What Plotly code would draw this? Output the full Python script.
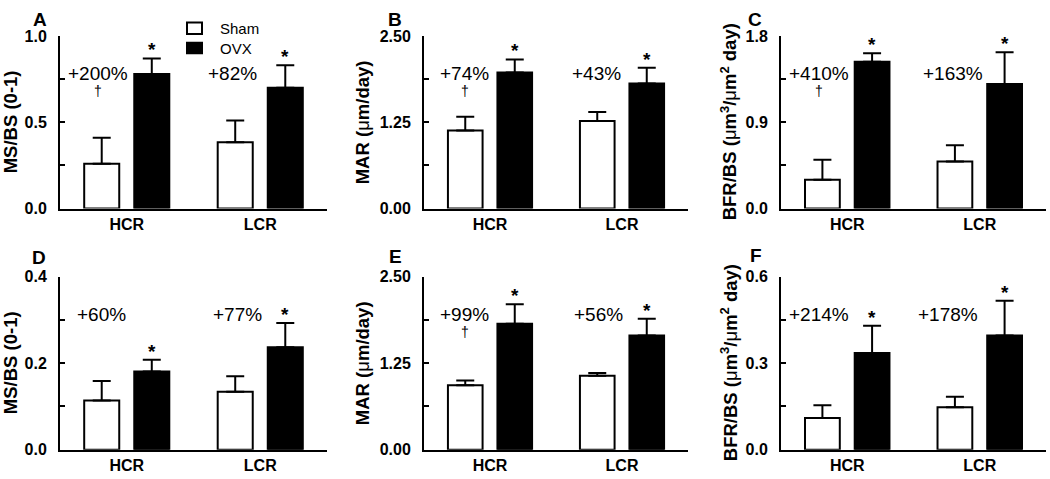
import plotly.graph_objects as go

# ---------------- data ----------------
categories = ["HCR", "LCR"]
series_names = ["Sham", "OVX"]

A_sham = [0.26, 0.385]
A_sham_err = [0.15, 0.125]
A_ovx = [0.78, 0.70]
A_ovx_err = [0.09, 0.13]

B_sham = [1.13, 1.27]
B_sham_err = [0.20, 0.13]
B_ovx = [1.97, 1.81]
B_ovx_err = [0.19, 0.23]

C_sham = [0.30, 0.49]
C_sham_err = [0.21, 0.17]
C_ovx = [1.53, 1.30]
C_ovx_err = [0.09, 0.33]

D_sham = [0.114, 0.134]
D_sham_err = [0.045, 0.036]
D_ovx = [0.181, 0.237]
D_ovx_err = [0.027, 0.056]

E_sham = [0.93, 1.07]
E_sham_err = [0.07, 0.04]
E_ovx = [1.82, 1.65]
E_ovx_err = [0.28, 0.24]

F_sham = [0.11, 0.147]
F_sham_err = [0.044, 0.037]
F_ovx = [0.335, 0.396]
F_ovx_err = [0.095, 0.12]

A_pct = ["+200%", "+82%"]
B_pct = ["+74%", "+43%"]
C_pct = ["+410%", "+163%"]
D_pct = ["+60%", "+77%"]
E_pct = ["+99%", "+56%"]
F_pct = ["+214%", "+178%"]

A_dagger = [True, False]
B_dagger = [True, False]
C_dagger = [True, False]
D_dagger = [False, False]
E_dagger = [True, False]
F_dagger = [False, False]

y_titles = [
    "<b>MS/BS (0-1)</b>",
    "<b>MAR (</b>μ<b>m/day)</b>",
    "<b>BFR/BS (</b>μ<b>m<sup>3</sup>/</b>μ<b>m<sup>2</sup> day)</b>",
    "<b>MS/BS (0-1)</b>",
    "<b>MAR (</b>μ<b>m/day)</b>",
    "<b>BFR/BS (</b>μ<b>m<sup>3</sup>/</b>μ<b>m<sup>2</sup> day)</b>",
]
panel_letters = ["A", "B", "C", "D", "E", "F"]
y_ranges = [[0, 1.0], [0, 2.5], [0, 1.8], [0, 0.4], [0, 2.5], [0, 0.6]]
y_dticks = [0.5, 1.25, 0.9, 0.2, 1.25, 0.3]
y_formats = [".1f", ".2f", ".1f", ".1f", ".2f", ".1f"]

panels = [
    (A_sham, A_sham_err, A_ovx, A_ovx_err, A_pct, A_dagger),
    (B_sham, B_sham_err, B_ovx, B_ovx_err, B_pct, B_dagger),
    (C_sham, C_sham_err, C_ovx, C_ovx_err, C_pct, C_dagger),
    (D_sham, D_sham_err, D_ovx, D_ovx_err, D_pct, D_dagger),
    (E_sham, E_sham_err, E_ovx, E_ovx_err, E_pct, E_dagger),
    (F_sham, F_sham_err, F_ovx, F_ovx_err, F_pct, F_dagger),
]

# ---------------- layout / style ----------------
W, H = 1050, 479
col_px = [(60, 327), (424, 688), (781, 1046)]
row_px = [(29, 208), (278.5, 458)]
title_x_px = [10, 362, 729]
letter_px = [(40, 12), (395, 12), (755, 12), (39, 259), (395, 258), (756, 257)]
pct_xoff = [[-0.217, -0.206], [-0.193, -0.19], [-0.21, -0.2],
            [-0.187, -0.17], [-0.19, -0.18], [-0.21, -0.24]]
pct_yfrac = 0.78
dagger_yfrac = 0.68
bar_off = 0.1875
# manual legend boxes (pixels): (x0, y0, x1, y1)
legend_boxes = [(187, 15, 202, 27), (187, 36, 202, 47)]
legend_fill = ["white", "black"]
legend_text_x = 218

FONT = "Arial, Liberation Sans, sans-serif"


def px_x(p):
    return p / W


def px_y(p):
    return 1 - p / H


fig = go.Figure()
layout = dict(
    width=W, height=H,
    margin=dict(l=0, r=0, t=0, b=0),
    paper_bgcolor="white", plot_bgcolor="white",
    barmode="group", bargap=0.25, bargroupgap=0.3,
    font=dict(family=FONT, color="black"),
    showlegend=False,
)
annotations = []
shapes = []

for i, (sham, sham_err, ovx, ovx_err, pct, dag) in enumerate(panels):
    r, c = divmod(i, 3)
    n = "" if i == 0 else str(i + 1)
    xa, ya = "x" + n, "y" + n
    x0, x1 = col_px[c]
    y0, y1 = row_px[r]
    fig.add_trace(go.Bar(
        x=categories, y=sham, name=series_names[0], xaxis=xa, yaxis=ya,
        marker=dict(color="white", line=dict(color="black", width=2)),
        error_y=dict(type="data", array=sham_err, arrayminus=[0] * len(sham),
                     symmetric=False, color="black", thickness=2, width=9),
        offsetgroup="sham",
    ))
    fig.add_trace(go.Bar(
        x=categories, y=ovx, name=series_names[1], xaxis=xa, yaxis=ya,
        marker=dict(color="black", line=dict(color="black", width=2)),
        error_y=dict(type="data", array=ovx_err, arrayminus=[0] * len(ovx),
                     symmetric=False, color="black", thickness=2, width=9),
        offsetgroup="ovx",
    ))
    layout["xaxis" + n] = dict(
        domain=[px_x(x0), px_x(x1)], anchor=ya, range=[-0.5, 1.5],
        showline=True, linewidth=2, linecolor="black", ticks="",
        tickfont=dict(family=FONT, size=16, weight="bold"),
        showgrid=False, zeroline=False, fixedrange=True,
    )
    layout["yaxis" + n] = dict(
        domain=[px_y(y1), px_y(y0)], anchor=xa, range=y_ranges[i],
        dtick=y_dticks[i], tick0=0, tickformat=y_formats[i],
        showline=True, linewidth=2, linecolor="black",
        ticks="inside", ticklen=5, tickwidth=1.5, tickcolor="black",
        minor=dict(dtick=y_dticks[i] / 2, ticks="inside", ticklen=5,
                   tickwidth=1.5, tickcolor="black", showgrid=False),
        tickfont=dict(family=FONT, size=16, weight="bold"),
        ticklabelstandoff=8,
        showgrid=False, zeroline=False, fixedrange=True,
    )
    # y-axis title
    annotations.append(dict(
        text=y_titles[i], xref="paper", yref="paper",
        x=px_x(title_x_px[c]), y=px_y((y0 + y1) / 2), textangle=-90,
        showarrow=False, xanchor="center", yanchor="middle",
        font=dict(family=FONT, size=18.5, color="black"),
    ))
    # panel letter
    lx, ly = letter_px[i]
    annotations.append(dict(
        text="<b>%s</b>" % panel_letters[i], xref="paper", yref="paper",
        x=px_x(lx), y=px_y(ly), showarrow=False,
        xanchor="center", yanchor="middle",
        font=dict(family=FONT, size=19, color="black"),
    ))
    for g in range(2):
        # percent change
        annotations.append(dict(
            text=pct[g], xref=xa, yref=ya + " domain",
            x=g + pct_xoff[i][g], y=pct_yfrac, showarrow=False,
            xanchor="center", yanchor="middle",
            font=dict(family=FONT, size=19, color="black"),
        ))
        if dag[g]:
            annotations.append(dict(
                text="†", xref=xa, yref=ya + " domain",
                x=g + pct_xoff[i][g], y=dagger_yfrac, showarrow=False,
                xanchor="center", yanchor="middle",
                font=dict(family=FONT, size=14, color="black"),
            ))
        # significance star above OVX bar
        annotations.append(dict(
            text="<b>*</b>", xref=xa, yref=ya,
            x=g + bar_off, y=ovx[g] + ovx_err[g], showarrow=False,
            xanchor="center", yanchor="bottom", yshift=-4,
            font=dict(family=FONT, size=19, color="black"),
        ))

# legend (drawn in panel A)
for k, name in enumerate(series_names):
    bx0, by0, bx1, by1 = legend_boxes[k]
    shapes.append(dict(
        type="rect", xref="paper", yref="paper",
        x0=px_x(bx0), x1=px_x(bx1), y0=px_y(by1), y1=px_y(by0),
        fillcolor=legend_fill[k], line=dict(color="black", width=2),
    ))
    annotations.append(dict(
        text=name, xref="paper", yref="paper",
        x=px_x(legend_text_x), y=px_y((by0 + by1) / 2), showarrow=False,
        xanchor="left", yanchor="middle",
        font=dict(family=FONT, size=15, color="black"),
    ))

layout["annotations"] = annotations
layout["shapes"] = shapes
fig.update_layout(**layout)
fig.write_html("out.html", config={"displayModeBar": False},
               post_script="document.body.style.margin='0';")
